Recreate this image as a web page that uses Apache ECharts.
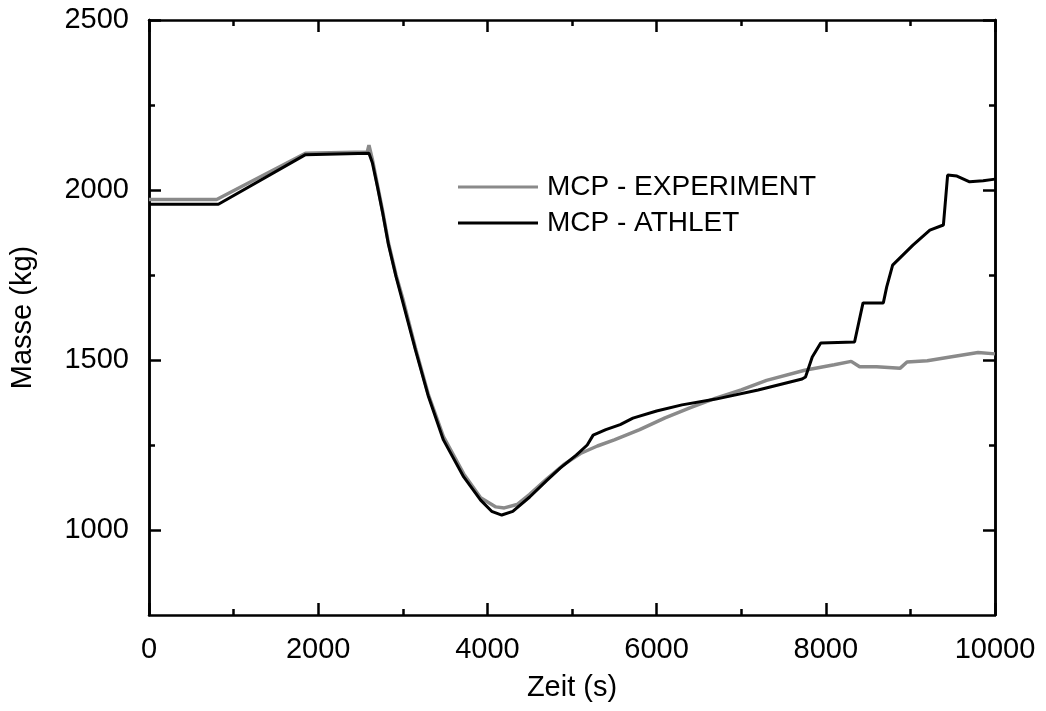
<!DOCTYPE html>
<html lang="de">
<head>
    <meta charset="UTF-8">
    <title>Masse</title>
    <script src="https://cdn.jsdelivr.net/npm/echarts@6/dist/echarts.min.js"></script>
</head>
<style>
html,body{margin:0;padding:0;background-color:#fff}
#chartBox{width:1046px;height:711px}
</style>
<body>
    <div id="chartBox"></div>
</body>
<script>
// Messwerte (Zeit in s, Masse in kg)
const expTime = [0, 800, 1850, 2580, 2600, 2640, 2700, 2760, 2830, 2920, 3000, 3150, 3300, 3480, 3720, 3920, 4100, 4200, 4350, 4500, 4700, 4900, 5100, 5300, 5500, 5800, 6100, 6400, 6700, 7000, 7300, 7750, 8100, 8300, 8400, 8600, 8880, 8960, 9200, 9470, 9800, 10000];
const expMass = [1972, 1972, 2108, 2112, 2132, 2090, 2015, 1940, 1845, 1750, 1680, 1535, 1400, 1275, 1165, 1095, 1068, 1065, 1075, 1105, 1150, 1192, 1225, 1247, 1265, 1295, 1330, 1360, 1388, 1412, 1440, 1470, 1486, 1496, 1480, 1480, 1476, 1494, 1498, 1509, 1522, 1518];

const athTime = [0, 820, 1850, 2600, 2640, 2700, 2760, 2830, 2920, 3000, 3150, 3300, 3480, 3720, 3920, 4050, 4170, 4300, 4500, 4700, 4860, 5050, 5180, 5250, 5400, 5570, 5720, 6000, 6300, 6700, 7200, 7720, 7760, 7840, 7940, 8340, 8440, 8680, 8720, 8790, 9030, 9230, 9390, 9440, 9550, 9700, 9860, 10000];
const athMass = [1958, 1958, 2104, 2108, 2080, 2010, 1935, 1840, 1745, 1670, 1529, 1395, 1265, 1156, 1088, 1055, 1044, 1055, 1097, 1145, 1182, 1220, 1250, 1279, 1295, 1310, 1329, 1350, 1368, 1385, 1412, 1444, 1450, 1509, 1550, 1553, 1668, 1668, 1715, 1779, 1838, 1882, 1897, 2044, 2041, 2024, 2027, 2032];

const yMajor = [1000, 1500, 2000, 2500];
const yMinor = [1250, 1750, 2250];

const seriesNames = ['MCP - EXPERIMENT', 'MCP - ATHLET'];

const font = 'Liberation Sans';

function pairs(xs, ys){
    return xs.map((x, i) => [x, ys[i]]);
}

function yAxisDef(pos, ticks, len, withLabel){
    return {
        type: 'value',
        position: pos,
        min: 750,
        max: 2500,
        name: withLabel ? 'Masse (kg)' : '',
        nameLocation: 'middle',
        nameGap: 112,
        nameTextStyle: {fontFamily: font, fontSize: 29, color: '#000'},
        axisLine: {show: true, lineStyle: {color: '#000', width: 2.5}},
        axisTick: {show: true, inside: true, length: len, customValues: ticks, lineStyle: {color: '#000', width: 2.5}},
        axisLabel: {show: withLabel, customValues: yMajor, margin: 20, fontFamily: font, fontSize: 29, color: '#000',
            formatter: v => String(v)},
        splitLine: {show: false}
    };
}

function xAxisDef(pos, withLabel){
    return {
        type: 'value',
        position: pos,
        min: 0,
        max: 10000,
        interval: 2000,
        name: withLabel ? 'Zeit (s)' : '',
        nameLocation: 'middle',
        nameGap: 58,
        nameTextStyle: {fontFamily: font, fontSize: 29, color: '#000'},
        axisLine: {show: true, lineStyle: {color: '#000', width: 2.5}},
        axisTick: {show: true, inside: true, length: 12, lineStyle: {color: '#000', width: 2.5}},
        minorTick: {show: true, splitNumber: 2, length: 6, lineStyle: {color: '#000', width: 2.5}},
        axisLabel: {show: withLabel, margin: 20, fontFamily: font, fontSize: 29, color: '#000',
            formatter: v => String(v)},
        splitLine: {show: false}
    };
}

const option = {
    animation: false,
    backgroundColor: '#fff',
    grid: {left: 149, right: 51, top: 20, bottom: 96},
    xAxis: [xAxisDef('bottom', true), xAxisDef('top', false)],
    yAxis: [
        yAxisDef('left', yMajor, 12, true),
        yAxisDef('left', yMinor, 6, false),
        yAxisDef('right', yMajor, 12, false),
        yAxisDef('right', yMinor, 6, false)
    ],
    legend: {
        orient: 'vertical',
        left: 453,
        top: 168,
        itemWidth: 80,
        itemHeight: 3,
        itemGap: 8,
        icon: 'rect',
        textStyle: {fontFamily: font, fontSize: 28, color: '#000', padding: [0, 0, 0, 4]},
        data: seriesNames
    },
    series: [
        {
            name: seriesNames[0],
            type: 'line',
            showSymbol: false,
            color: '#8a8a8a',
            lineStyle: {color: '#8a8a8a', width: 3.5},
            z: 2,
            data: pairs(expTime, expMass)
        },
        {
            name: seriesNames[1],
            type: 'line',
            showSymbol: false,
            color: '#000',
            lineStyle: {color: '#000', width: 3},
            z: 3,
            data: pairs(athTime, athMass)
        }
    ]
};

let chartObj = echarts.init(document.getElementById('chartBox'));
chartObj.setOption(option);
</script>
</html>
